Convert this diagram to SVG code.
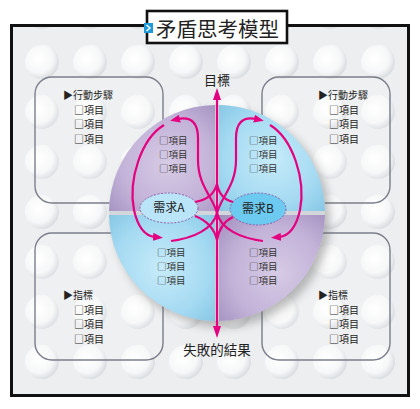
<svg xmlns="http://www.w3.org/2000/svg" width="420" height="409" viewBox="0 0 420 409">
<style>
.t{font-family:'Noto Sans CJK TC','Noto Sans CJK SC',sans-serif;fill:#222}
.bt{font-size:10px}
.ci{font-size:9.5px;fill:#333}
.bx{fill:rgba(255,255,255,0.12);stroke:#7b7e8a;stroke-width:1.4}
.mg{fill:none;stroke:#e4007f;stroke-width:2.2}
.el{stroke:#8e5fa8;stroke-width:1;stroke-dasharray:2 1.5}
</style>
<defs>
<radialGradient id="bub" cx="0.4" cy="0.4" r="0.6">
<stop offset="0" stop-color="#ffffff"/>
<stop offset="0.7" stop-color="#f6f7f8"/>
<stop offset="1" stop-color="#dcdfe2"/>
</radialGradient>
<pattern id="pat" patternUnits="userSpaceOnUse" x="18" y="37" width="48" height="50">
<rect width="48" height="50" fill="#eceef0"/>
<circle cx="24" cy="25" r="17" fill="url(#bub)"/>
</pattern>
<radialGradient id="pu" cx="0.55" cy="0.55" r="0.8">
<stop offset="0" stop-color="#d6cbe5"/>
<stop offset="0.55" stop-color="#c2b2d8"/>
<stop offset="1" stop-color="#9c8aba"/>
</radialGradient>
<radialGradient id="bl" cx="0.5" cy="0.5" r="0.8">
<stop offset="0" stop-color="#c6ebf9"/>
<stop offset="0.55" stop-color="#a5daf2"/>
<stop offset="1" stop-color="#7cc0df"/>
</radialGradient>
<filter id="sh" x="-30%" y="-30%" width="160%" height="160%"><feGaussianBlur stdDeviation="5"/></filter>
<marker id="ab" viewBox="0 0 12 8" refX="2" refY="4" markerWidth="12" markerHeight="8" markerUnits="userSpaceOnUse" orient="auto-start-reverse"><path d="M0,0 L12,4 L0,8 z" fill="#e4007f"/></marker>
<marker id="am" viewBox="0 0 10 8" refX="2" refY="4" markerWidth="10" markerHeight="8" markerUnits="userSpaceOnUse" orient="auto"><path d="M0,0 L10,4 L0,8 z" fill="#e4007f"/></marker>
</defs>
<rect width="420" height="409" fill="#ffffff"/>
<g id="frame">
<rect x="11.5" y="25.5" width="397" height="370" fill="url(#pat)" stroke="#111" stroke-width="3"/>
</g>
<g id="box-tl">
<rect class="bx" x="35" y="77" width="128" height="126" rx="17"/>
<text class="t bt" x="63" y="99">▶行動步驟</text>
<text class="t bt" x="74" y="113.5">□項目</text>
<text class="t bt" x="74" y="128">□項目</text>
<text class="t bt" x="74" y="142.5">□項目</text>
</g>
<g id="box-tr">
<rect class="bx" x="262" y="77" width="128" height="126" rx="17"/>
<text class="t bt" x="318" y="99">▶行動步驟</text>
<text class="t bt" x="329" y="113.5">□項目</text>
<text class="t bt" x="329" y="128">□項目</text>
<text class="t bt" x="329" y="142.5">□項目</text>
</g>
<g id="box-bl">
<rect class="bx" x="35" y="233" width="128" height="127" rx="17"/>
<text class="t bt" x="63" y="299">▶指標</text>
<text class="t bt" x="74" y="313.5">□項目</text>
<text class="t bt" x="74" y="328">□項目</text>
<text class="t bt" x="74" y="342.5">□項目</text>
</g>
<g id="box-br">
<rect class="bx" x="262" y="233" width="128" height="127" rx="17"/>
<text class="t bt" x="318" y="299">▶指標</text>
<text class="t bt" x="329" y="313.5">□項目</text>
<text class="t bt" x="329" y="328">□項目</text>
<text class="t bt" x="329" y="342.5">□項目</text>
</g>
<g id="pie">
<circle cx="222" cy="219" r="108" fill="#6a6a6a" opacity="0.45" filter="url(#sh)"/>
<circle cx="217" cy="213" r="108" fill="#d3d7db"/>
<path d="M215,211 L215,105 A108,108 0 0 0 109,211 Z" fill="url(#pu)"/>
<path d="M219,211 L219,105 A108,108 0 0 1 325,211 Z" fill="url(#bl)"/>
<path d="M215,215 L109,215 A108,108 0 0 0 215,321 Z" fill="url(#bl)"/>
<path d="M219,215 L325,215 A108,108 0 0 1 219,321 Z" fill="url(#pu)"/>
<text class="t ci" x="159" y="144">□項目</text>
<text class="t ci" x="159" y="158">□項目</text>
<text class="t ci" x="159" y="172">□項目</text>
<text class="t ci" x="249" y="144">□項目</text>
<text class="t ci" x="249" y="158">□項目</text>
<text class="t ci" x="249" y="172">□項目</text>
<text class="t ci" x="157" y="256">□項目</text>
<text class="t ci" x="157" y="270">□項目</text>
<text class="t ci" x="157" y="284">□項目</text>
<text class="t ci" x="249" y="256">□項目</text>
<text class="t ci" x="249" y="270">□項目</text>
<text class="t ci" x="249" y="284">□項目</text>
</g>
<g id="need-a">
<ellipse class="el" cx="169" cy="208" rx="29" ry="15" fill="#bae5f8"/>
<text class="t" x="169" y="212" font-size="12" text-anchor="middle">需求A</text>
</g>
<g id="need-b">
<ellipse class="el" cx="258" cy="209" rx="28" ry="16" fill="#6ccaf0"/>
<text class="t" x="258" y="213" font-size="12" text-anchor="middle">需求B</text>
</g>
<g id="connectors">
<path class="mg" d="M217,98 L217,328" marker-start="url(#ab)" marker-end="url(#ab)"/>
<path class="mg" d="M263,241 C240,238 221,229 217,213 C213,197 198,186 198,160 L198,138 C198,124 192,116 178,119" marker-end="url(#am)"/>
<path class="mg" d="M164,125 C141,139 128,180 134,210 C138,228 145,236 155,237" marker-end="url(#am)"/>
<path class="mg" d="M171,241 C194,238 213,229 217,213 C221,197 236,186 236,160 L236,138 C236,124 242,116 256,119" marker-end="url(#am)"/>
<path class="mg" d="M270,125 C293,139 306,180 300,210 C296,228 289,236 279,237" marker-end="url(#am)"/>
<path class="mg" d="M195,202 Q213,199 217,184"/>
<path class="mg" d="M233,202 Q220,199 217,184"/>
<path class="mg" d="M195,216 Q213,223 217,240"/>
<path class="mg" d="M233,217 Q220,223 217,240"/>
</g>
<g id="label-goal"><text class="t" x="217" y="85" font-size="13" text-anchor="middle">目標</text></g>
<g id="label-fail"><text class="t" x="217" y="355" font-size="13.5" text-anchor="middle">失敗的結果</text></g>
<g id="title">
<rect x="147" y="11" width="140" height="32" fill="#ffffff" stroke="#111" stroke-width="2.6"/>
<rect x="144" y="23" width="9" height="10" fill="#1e9bd7"/>
<polyline points="146.5,25 150,28 146.5,31" fill="none" stroke="#fff" stroke-width="1.5"/>
<text class="t" x="156" y="37" font-size="20.5" fill="#111">矛盾思考模型</text>
</g>
</svg>
